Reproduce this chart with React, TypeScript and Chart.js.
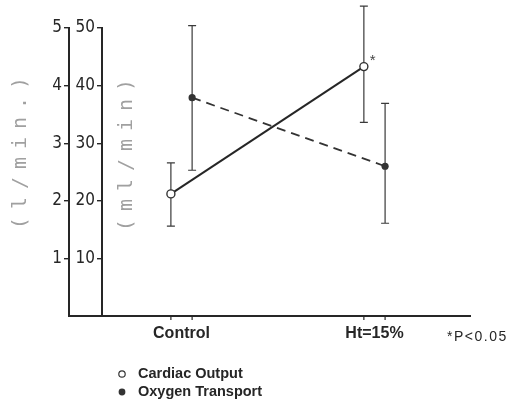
import React, { useEffect, useRef } from 'react';
import { Chart, registerables } from 'chart.js';

Chart.register(...registerables);

// ---- data ----
const categories = ['Control', 'Ht=15%'];
const seriesNames = ['Cardiac Output', 'Oxygen Transport'];
const cardiacOutput = [2.12, 4.33];
const cardiacOutputLow = [1.56, 3.36];
const cardiacOutputHigh = [2.66, 5.38];
const oxygenTransport = [37.9, 26.0];
const oxygenTransportLow = [25.3, 16.1];
const oxygenTransportHigh = [50.4, 36.9];
const leftTicks = [1, 2, 3, 4, 5];
const innerTicks = [10, 20, 30, 40, 50];
const leftTitle = '(l/min.)';
const innerTitle = '(ml/min)';
const footnote = '*P<0.05';
const significanceMark = '*';

// ---- style constants ----
const DODGE = 0.055;
const INK = '#262626';
const NARROW = "'Liberation Sans Narrow', 'DejaVu Sans Condensed', sans-serif";
const SANS = "'Liberation Sans', Arial, sans-serif";

const overlay = {
  id: 'overlay',
  beforeDatasetsDraw(chart: any) {
    const { ctx, scales } = chart;
    const xs = scales.x;
    ctx.save();
    ctx.strokeStyle = '#3a3a3a';
    ctx.lineWidth = 1.2;
    const bar = (cx: number, lo: number, hi: number, ys: any) => {
      const y1 = ys.getPixelForValue(lo);
      const y2 = ys.getPixelForValue(hi);
      ctx.beginPath();
      ctx.moveTo(cx, y1);
      ctx.lineTo(cx, y2);
      ctx.moveTo(cx - 4, y1);
      ctx.lineTo(cx + 4, y1);
      ctx.moveTo(cx - 4, y2);
      ctx.lineTo(cx + 4, y2);
      ctx.stroke();
    };
    categories.forEach((_, i) => {
      bar(xs.getPixelForValue(i - DODGE), cardiacOutputLow[i], cardiacOutputHigh[i], scales.yL);
      bar(xs.getPixelForValue(i + DODGE), oxygenTransportLow[i], oxygenTransportHigh[i], scales.yR);
    });
    ctx.restore();
  },
  afterDraw(chart: any) {
    const { ctx, scales, chartArea } = chart;
    const xs = scales.x;
    const yL = scales.yL;
    const yR = scales.yR;
    ctx.save();
    // baseline extension under the two y axes
    ctx.strokeStyle = INK;
    ctx.lineWidth = 2;
    ctx.beginPath();
    ctx.moveTo(yL.right - 1, chartArea.bottom);
    ctx.lineTo(chartArea.left, chartArea.bottom);
    ctx.stroke();
    // small tick marks at each point position
    ctx.lineWidth = 1.2;
    categories.forEach((_, i) => {
      [i - DODGE, i + DODGE].forEach((v) => {
        const px = xs.getPixelForValue(v);
        ctx.beginPath();
        ctx.moveTo(px, chartArea.bottom);
        ctx.lineTo(px, chartArea.bottom + 4);
        ctx.stroke();
      });
    });

    // rotated axis titles
    const drawTitle = (text: string, cx: number, cy: number) => {
      ctx.save();
      ctx.translate(cx, cy);
      ctx.rotate(-Math.PI / 2);
      ctx.font = "20px 'DejaVu Sans Mono', monospace";
      (ctx as any).letterSpacing = '8px';
      ctx.fillStyle = '#a0a0a0';
      ctx.textAlign = 'center';
      ctx.textBaseline = 'middle';
      ctx.fillText(text, 4, 0);
      ctx.restore();
    };
    drawTitle(leftTitle, yL.left + 21, chartArea.top + 125);
    drawTitle(innerTitle, yR.right + 25, chartArea.top + 127);

    // significance mark
    ctx.fillStyle = '#444';
    ctx.font = `15px ${SANS}`;
    ctx.textAlign = 'left';
    ctx.textBaseline = 'middle';
    ctx.fillText(significanceMark, xs.getPixelForValue(1 - DODGE) + 6, yL.getPixelForValue(cardiacOutput[1]) - 6);

    // footnote
    ctx.fillStyle = INK;
    ctx.font = `14px ${SANS}`;
    (ctx as any).letterSpacing = '1.5px';
    ctx.textAlign = 'left';
    ctx.fillText(footnote, 447, chartArea.bottom + 21);
    (ctx as any).letterSpacing = '0px';

    // legend
    const lx = chartArea.left + 20;
    const ly = [chartArea.bottom + 58, chartArea.bottom + 76];
    ctx.lineWidth = 1.2;
    ctx.strokeStyle = '#333';
    ctx.fillStyle = '#fff';
    ctx.beginPath();
    ctx.arc(lx, ly[0], 3.2, 0, Math.PI * 2);
    ctx.fill();
    ctx.stroke();
    ctx.fillStyle = '#333';
    ctx.beginPath();
    ctx.arc(lx, ly[1], 3.4, 0, Math.PI * 2);
    ctx.fill();
    ctx.font = `bold 14.5px ${SANS}`;
    ctx.fillStyle = INK;
    seriesNames.forEach((name, i) => {
      ctx.fillText(name, lx + 16, ly[i]);
    });
    ctx.restore();
  },
};

export default function App() {
  const ref = useRef<HTMLCanvasElement | null>(null);

  useEffect(() => {
    document.body.style.margin = '0';
    const canvas = ref.current;
    if (!canvas) return;
    const chart = new Chart(canvas, {
      type: 'line',
      data: {
        datasets: [
          {
            label: seriesNames[0],
            data: cardiacOutput.map((v, i) => ({ x: i - DODGE, y: v })),
            yAxisID: 'yL',
            borderColor: INK,
            borderWidth: 2,
            pointRadius: 4,
            pointBackgroundColor: '#fff',
            pointBorderColor: '#333',
            pointBorderWidth: 1.4,
            clip: false,
            order: 0,
          },
          {
            label: seriesNames[1],
            data: oxygenTransport.map((v, i) => ({ x: i + DODGE, y: v })),
            yAxisID: 'yR',
            borderColor: '#333',
            borderWidth: 1.8,
            borderDash: [9, 6],
            pointRadius: 3.6,
            pointBackgroundColor: '#333',
            pointBorderColor: '#333',
            pointBorderWidth: 0,
            clip: false,
            order: 1,
          },
        ],
      },
      options: {
        responsive: false,
        animation: false,
        devicePixelRatio: 1,
        layout: { padding: { top: 28, right: 58, left: 0, bottom: 0 } },
        plugins: { legend: { display: false }, tooltip: { enabled: false } },
        scales: {
          x: {
            type: 'linear',
            min: -0.412,
            max: 1.495,
            afterBuildTicks: (s: any) => {
              s.ticks = categories.map((_, i) => ({ value: i }));
            },
            afterFit: (s: any) => {
              s.height = 88;
            },
            ticks: {
              callback: (v: any) => categories[Math.round(Number(v))] ?? '',
              font: { size: 16, weight: 'bold', family: SANS },
              color: INK,
              padding: 8,
              maxRotation: 0,
              autoSkip: false,
            },
            grid: { display: false, drawTicks: false },
            border: { display: true, color: INK, width: 2 },
          },
          yL: {
            type: 'linear',
            position: 'left',
            min: 0,
            max: 5,
            weight: 2,
            afterBuildTicks: (s: any) => {
              s.ticks = leftTicks.map((v) => ({ value: v }));
            },
            afterFit: (s: any) => {
              s.width = 69;
            },
            ticks: {
              font: { size: 17, family: NARROW },
              color: INK,
              padding: 2,
            },
            grid: { display: true, drawOnChartArea: false, drawTicks: true, tickLength: 5, color: INK, lineWidth: 1.4 },
            border: { display: true, color: INK, width: 2 },
          },
          yR: {
            type: 'linear',
            position: 'left',
            min: 0,
            max: 50,
            weight: 1,
            afterBuildTicks: (s: any) => {
              s.ticks = innerTicks.map((v) => ({ value: v }));
            },
            afterFit: (s: any) => {
              s.width = 33;
            },
            ticks: {
              font: { size: 17, family: NARROW },
              color: INK,
              padding: 2,
            },
            grid: { display: true, drawOnChartArea: false, drawTicks: true, tickLength: 5, color: INK, lineWidth: 1.4 },
            border: { display: true, color: INK, width: 2 },
          },
        },
      },
      plugins: [overlay],
    } as any);
    return () => chart.destroy();
  }, []);

  return (
    <div style={{ width: 528, height: 404, overflow: 'hidden', background: '#fff' }}>
      <canvas ref={ref} width={528} height={404} style={{ width: 528, height: 404, display: 'block' }} />
    </div>
  );
}
